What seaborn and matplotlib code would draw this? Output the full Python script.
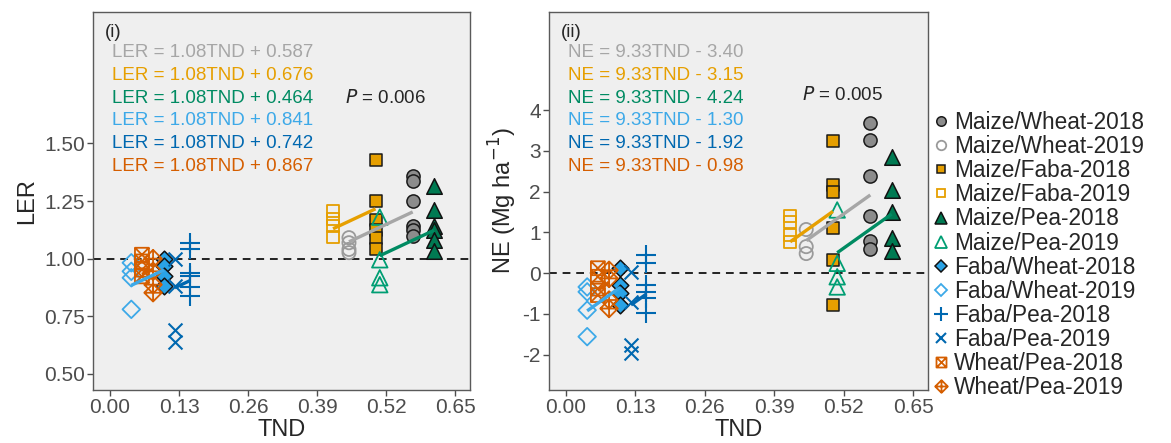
import numpy as np
import pandas as pd
import matplotlib
matplotlib.use("Agg")
import matplotlib.pyplot as plt
import seaborn as sns
from matplotlib.path import Path
from matplotlib.lines import Line2D

# groups (intercrop - year) and their TND value
groups = ["Maize/Wheat-2018", "Maize/Wheat-2019", "Maize/Faba-2018", "Maize/Faba-2019",
          "Maize/Pea-2018", "Maize/Pea-2019", "Faba/Wheat-2018", "Faba/Wheat-2019",
          "Faba/Pea-2018", "Faba/Pea-2019", "Wheat/Pea-2018", "Wheat/Pea-2019"]
tnd = [0.570, 0.450, 0.500, 0.420, 0.610, 0.508, 0.102, 0.040, 0.151, 0.122, 0.060, 0.081]

ler = [
    [1.358, 1.336, 1.249, 1.140, 1.126, 1.100],
    [1.091, 1.069, 1.040, 1.026],
    [1.430, 1.249, 1.167, 1.126, 1.090, 1.043],
    [1.206, 1.173, 1.140, 1.095],
    [1.317, 1.213, 1.140, 1.126, 1.083, 1.032],
    [1.180, 0.995, 0.917, 0.887],
    [1.000, 0.967, 0.923, 0.880],
    [0.982, 0.945, 0.917, 0.780],
    [1.070, 1.040, 0.937, 0.923, 0.875, 0.836],
    [1.000, 0.880, 0.690, 0.640],
    [1.017, 0.988, 0.952, 0.923],
    [1.000, 0.945, 0.887, 0.852],
]
ne = [
    [3.69, 3.28, 2.38, 1.40, 0.79, 0.58],
    [1.07, 0.65, 0.48],
    [3.24, 2.16, 2.00, 1.11, 0.32, -0.79],
    [1.40, 1.26, 0.93, 0.77],
    [2.86, 2.04, 1.51, 0.85, 0.55],
    [1.55, 0.24, -0.09, -0.34],
    [0.12, -0.29, -0.50, -0.79],
    [-0.34, -0.46, -0.91, -1.56],
    [0.44, 0.24, -0.29, -0.46, -0.62, -0.99],
    [0.03, -0.70, -1.77, -1.97],
    [0.12, -0.09, -0.38, -0.54],
    [0.07, -0.13, -0.66, -0.87],
]

# fitted lines: one per intercrop (2019 TND -> 2018 TND)
pairs = ["Maize/Wheat", "Maize/Faba", "Maize/Pea", "Faba/Wheat", "Faba/Pea", "Wheat/Pea"]
ler_slope = 1.08
ler_int = [0.587, 0.676, 0.464, 0.841, 0.742, 0.867]
ne_slope = 9.33
ne_int = [-3.40, -3.15, -4.24, -1.30, -1.92, -0.98]
p_text = ["0.006", "0.005"]

pair_cols = ["#a6a6a6", "#E69F00", "#008B62", "#3DA9E8", "#0068B0", "#D55E00"]

# custom ggplot-like shapes
sq_x = Path([(-1, -1), (1, -1), (1, 1), (-1, 1), (-1, -1), (-1, -1), (1, 1), (-1, 1), (1, -1)],
            [Path.MOVETO, Path.LINETO, Path.LINETO, Path.LINETO, Path.CLOSEPOLY,
             Path.MOVETO, Path.LINETO, Path.MOVETO, Path.LINETO])
dia_plus = Path([(0, -1), (1, 0), (0, 1), (-1, 0), (0, -1), (0, -1), (0, 1), (-1, 0), (1, 0)],
                [Path.MOVETO, Path.LINETO, Path.LINETO, Path.LINETO, Path.CLOSEPOLY,
                 Path.MOVETO, Path.LINETO, Path.MOVETO, Path.LINETO])

# marker, facecolor, edgecolor, size, linewidth
styles = [
    ("o", "#8c8c8c", "#1a1a1a", 90, 1.1),
    ("o", "none", "#9a9a9a", 90, 1.3),
    ("s", "#E69F00", "#1a1a1a", 75, 1.1),
    ("s", "none", "#E69F00", 75, 1.3),
    ("^", "#007A52", "#111111", 125, 1.1),
    ("^", "none", "#009E73", 125, 1.3),
    ("D", "#2AA3E6", "#111111", 72, 1.1),
    ("D", "none", "#3DA9E8", 80, 1.3),
    ("+", None, "#0068B0", 200, 1.5),
    ("x", None, "#0068B0", 100, 1.5),
    (sq_x, "none", "#D55E00", 100, 1.3),
    (dia_plus, "none", "#D55E00", 160, 1.3),
]

sns.set_style("ticks")
plt.rcParams["font.family"] = ["Liberation Sans", "DejaVu Sans"]

fig = plt.figure(figsize=(11.71, 4.43), dpi=100)
ax1 = fig.add_axes([0.0797, 0.1196, 0.3217, 0.8533])
ax2 = fig.add_axes([0.4688, 0.1196, 0.3237, 0.8533])


def draw_panel(ax, values, slope, intercepts, ylabel, tag, eq_name, sign_fmt, p, ylim, yticks, ytl):
    ax.set_facecolor("#efefef")
    for i, g in enumerate(groups):
        df = pd.DataFrame({"TND": [tnd[i]] * len(values[i]), "y": values[i]})
        m, fc, ec, s, lw = styles[i]
        if fc is None:
            sns.scatterplot(data=df, x="TND", y="y", marker=m, s=s, color=ec,
                            linewidth=lw, ax=ax, zorder=3)
        else:
            sns.scatterplot(data=df, x="TND", y="y", marker=m, s=s, facecolor=fc,
                            edgecolor=ec, linewidth=lw, ax=ax, zorder=3)
    for k in range(len(pairs)):
        xs = np.array([tnd[2 * k + 1], tnd[2 * k]])
        ax.plot(xs, slope * xs + intercepts[k], color=pair_cols[k], lw=2.4,
                solid_capstyle="butt", zorder=4)
    ax.axhline(ylim[2], color="#222222", lw=1.4, ls=(0, (4, 3)), zorder=2)

    ax.set_xlim(-0.0315, 0.678)
    ax.set_ylim(ylim[0], ylim[1])
    ax.set_xticks([0.0, 0.13, 0.26, 0.39, 0.52, 0.65])
    ax.set_xticklabels(["0.00", "0.13", "0.26", "0.39", "0.52", "0.65"])
    ax.set_yticks(yticks)
    ax.set_yticklabels(ytl)
    ax.tick_params(axis="both", labelsize=15, colors="#4d4d4d", length=4, width=1.0, pad=2)
    ax.set_xlabel("TND", fontsize=17, labelpad=1)
    ax.set_ylabel(ylabel, fontsize=17, labelpad=4)
    for sp in ax.spines.values():
        sp.set_color("#5a5a5a")
        sp.set_linewidth(1.0)

    ax.text(0.031, 0.947, tag, transform=ax.transAxes, fontsize=13.5, va="center", ha="left")
    ys = [0.892, 0.831, 0.772, 0.712, 0.651, 0.590]
    for k in range(len(pairs)):
        ax.text(0.050, ys[k], f"{eq_name} = {slope:.2f}TND {sign_fmt(intercepts[k])}",
                transform=ax.transAxes, fontsize=13.5, color=pair_cols[k], va="center", ha="left")
    ax.text(0.668, p[1], f"$P$ = {p[0]}", transform=ax.transAxes, fontsize=13.5,
            va="center", ha="left")


draw_panel(ax1, ler, ler_slope, ler_int, "LER", "(i)", "LER",
           lambda b: f"+ {b:.3f}", (p_text[0], 0.772), (0.43, 2.07, 1.0),
           [0.5, 0.75, 1.0, 1.25, 1.5], ["0.50", "0.75", "1.00", "1.25", "1.50"])
draw_panel(ax2, ne, ne_slope, ne_int, "NE (Mg ha$^{-1}$)", "(ii)", "NE",
           lambda b: f"- {abs(b):.2f}", (p_text[1], 0.780), (-2.87, 6.41, 0.0),
           [-2, -1, 0, 1, 2, 3, 4], ["-2", "-1", "0", "1", "2", "3", "4"])
ax2.set_ylabel("NE (Mg ha$^{-1}$)", fontsize=17, labelpad=2)

handles = []
for i, g in enumerate(groups):
    m, fc, ec, s, lw = styles[i]
    ms = np.sqrt(s) * 0.72
    if fc is None:
        h = Line2D([], [], ls="none", marker=m, color=ec, markersize=ms, markeredgewidth=lw)
    else:
        h = Line2D([], [], ls="none", marker=m, markerfacecolor=fc, markeredgecolor=ec,
                   markersize=ms, markeredgewidth=lw)
    handles.append(h)
fig.legend(handles, groups, loc="center left", bbox_to_anchor=(0.797, 0.424), frameon=False,
           fontsize=16.3, handlelength=0.7, handletextpad=0.2, labelspacing=0.05,
           borderaxespad=0, borderpad=0)

fig.savefig("out.png", dpi=100)
